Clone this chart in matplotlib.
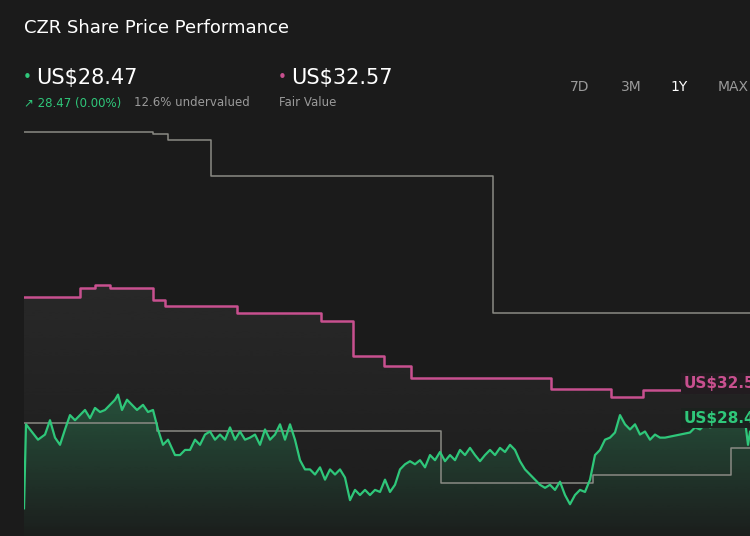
import matplotlib.pyplot as plt
import numpy as np
from matplotlib.patches import Polygon

# share price (days since start, US$)
price_days = [0, 1, 3, 7, 10.5, 13, 15.5, 18, 20.5, 23, 25.5, 28, 30.5, 33, 35.5, 38, 40.5, 43, 45.5, 47, 49,
              51.5, 54, 56.5, 59.5, 62, 64.5, 67, 69.5, 72, 75.5, 78, 80.5, 83, 85.5, 88, 90.5, 93, 95.5, 98,
              100.5, 103, 105.5, 108, 110.5, 113, 115.5, 118, 120.5, 123, 125.5, 128, 130.5, 133, 135.5, 138,
              140.5, 143, 145.5, 148, 150.5, 153, 155.5, 158, 160.5, 163, 165.5, 168, 170.5, 173, 175.5, 178,
              180.5, 183, 185.5, 188, 190.5, 193, 195.5, 198, 200.5, 203, 205.5, 208, 210.5, 213, 215.5, 218,
              220.5, 223, 225.5, 228, 230.5, 233, 235.5, 238, 240.5, 243, 245.5, 248, 250.5, 253, 255.5, 258,
              260.5, 263, 265.5, 268, 270.5, 273, 275.5, 278, 280.5, 283, 285.5, 288, 290.5, 293, 295.5, 298,
              300.5, 303, 305.5, 308, 310.5, 313, 315.5, 318, 320.5, 323, 325.5, 328, 330.5, 333, 335.5, 338,
              340.5, 343, 348, 353, 358, 360.5, 362, 363]
price_vals = [21.0, 29.2, 28.7, 27.7, 28.2, 29.6, 27.9, 27.2, 28.7, 30.1, 29.6, 30.1, 30.6, 29.8, 30.8, 30.4, 30.6,
              31.1, 31.6, 32.1, 30.6, 31.6, 31.1, 30.6, 31.1, 30.4, 30.6, 28.7, 27.2, 27.7, 26.2, 26.2, 26.7,
              26.7, 27.7, 27.2, 28.2, 28.5, 27.7, 28.2, 27.7, 28.9, 27.7, 28.5, 27.7, 27.9, 28.2, 27.2, 28.7,
              27.7, 28.2, 29.2, 27.7, 29.2, 27.7, 25.7, 24.8, 24.8, 24.3, 25.0, 23.8, 24.8, 24.3, 24.8, 24.0,
              21.8, 22.8, 22.3, 22.8, 22.3, 22.8, 22.6, 23.8, 22.6, 23.3, 24.8, 25.3, 25.6, 25.3, 25.7, 25.0,
              26.2, 25.7, 26.5, 25.6, 26.2, 25.7, 26.7, 26.2, 26.9, 26.2, 25.6, 26.2, 26.7, 26.2, 26.9, 26.5,
              27.2, 26.7, 25.6, 24.8, 24.3, 23.8, 23.3, 23.0, 23.3, 22.8, 23.6, 22.3, 21.4, 22.3, 22.8, 22.6,
              23.8, 26.2, 26.7, 27.7, 27.9, 28.4, 30.1, 29.2, 28.7, 29.2, 28.2, 28.5, 27.7, 28.2, 27.9, 27.9,
              28.0, 28.1, 28.2, 28.3, 28.4, 28.9, 28.7, 29.2, 28.9, 29.2, 29.5, 29.6, 29.6, 27.2, 28.47]

# fair value steps (start day, value)
fair_days = [0, 28, 35.5, 43, 64.5, 70.5, 106.5, 148.5, 164.5, 180, 193.5, 263.5, 293.5, 309.5, 363]
fair_vals = [41.6, 42.5, 42.8, 42.5, 41.3, 40.7, 40.1, 39.3, 35.9, 34.9, 33.7, 32.6, 31.9, 32.57, 32.57]

# grey reference steps
upper_days = [0, 64.5, 72, 93.5, 234.5, 363]
upper_vals = [57.7, 57.5, 56.9, 53.4, 40.1, 40.1]
lower_days = [0, 66.5, 208.5, 284.5, 353.5, 363]
lower_vals = [29.3, 28.5, 23.5, 24.3, 26.9, 26.9]

bg = '#1b1b1b'
green = '#2fc77a'
pink = '#c8508f'
grey = '#8a8a84'
ymin, ymax = 18.3, 58.9


def gradient_fill(ax, x, y, color, top_alpha, ylo, yhi, step=False):
    # vertical fade under a line, clipped to the area below it
    if step:
        xs = np.repeat(x, 2)[1:]
        ys = np.repeat(y, 2)[:-1]
    else:
        xs, ys = np.asarray(x), np.asarray(y)
    verts = np.column_stack([np.r_[xs[0], xs, xs[-1]], np.r_[ymin, ys, ymin]])
    poly = Polygon(verts, closed=True, facecolor='none', edgecolor='none')
    ax.add_patch(poly)
    rgba = np.zeros((100, 1, 4))
    rgba[:, :, :3] = plt.matplotlib.colors.to_rgb(color)
    rgba[:, 0, 3] = np.linspace(top_alpha, 0.02, 100)
    im = ax.imshow(rgba, aspect='auto', extent=[x[0], x[-1], ylo, yhi], origin='upper', zorder=1)
    im.set_clip_path(poly)


fig = plt.figure(figsize=(7.5, 5.36), dpi=100)
fig.patch.set_facecolor(bg)
ax = fig.add_axes([24 / 750, 0, 726 / 750, 416 / 536])
ax.set_facecolor(bg)

ax.step(upper_days, upper_vals, where='post', color=grey, lw=1.1, zorder=2)
ax.step(lower_days, lower_vals, where='post', color=grey, lw=1.1, zorder=2)
gradient_fill(ax, fair_days, fair_vals, '#3a3a3a', 0.45, ymin, 43, step=True)
ax.step(fair_days, fair_vals, where='post', color=pink, lw=1.8, zorder=3)
gradient_fill(ax, price_days, price_vals, green, 0.28, ymin, 32.2)
ax.plot(price_days, price_vals, color=green, lw=1.6, zorder=4)

ax.set_xlim(0, 363)
ax.set_ylim(ymin, ymax)
ax.axis('off')

ax.text(330, 33.2, 'US$32.57', color=pink, fontsize=11, fontweight='bold', va='center',
        bbox=dict(facecolor='#221c20', edgecolor='none', pad=2), clip_on=True, zorder=5)
ax.text(330, 29.8, 'US$28.47', color=green, fontsize=11, fontweight='bold', va='center',
        bbox=dict(facecolor='#1b221e', edgecolor='none', pad=2), clip_on=True, zorder=5)

fig.text(24 / 750, 1 - 28 / 536, 'CZR Share Price Performance', color='white', fontsize=13, va='center')
fig.text(23 / 750, 1 - 78 / 536, '•', color=green, fontsize=11, va='center')
fig.text(36 / 750, 1 - 78 / 536, 'US$28.47', color='white', fontsize=15, va='center')
fig.text(24 / 750, 1 - 103 / 536, '↗ 28.47 (0.00%)', color=green, fontsize=8.5, va='center')
fig.text(134 / 750, 1 - 103 / 536, '12.6% undervalued', color='#9a9a9a', fontsize=8.5, va='center')
fig.text(278 / 750, 1 - 78 / 536, '•', color=pink, fontsize=11, va='center')
fig.text(291 / 750, 1 - 78 / 536, 'US$32.57', color='white', fontsize=15, va='center')
fig.text(279 / 750, 1 - 103 / 536, 'Fair Value', color='#9a9a9a', fontsize=8.5, va='center')
for label, px, col in [('7D', 580, '#9a9a9a'), ('3M', 631, '#9a9a9a'), ('1Y', 679, 'white'), ('MAX', 733, '#9a9a9a')]:
    fig.text(px / 750, 1 - 87 / 536, label, color=col, fontsize=10, va='center', ha='center')

fig.savefig('out.png', dpi=100, facecolor=bg)
